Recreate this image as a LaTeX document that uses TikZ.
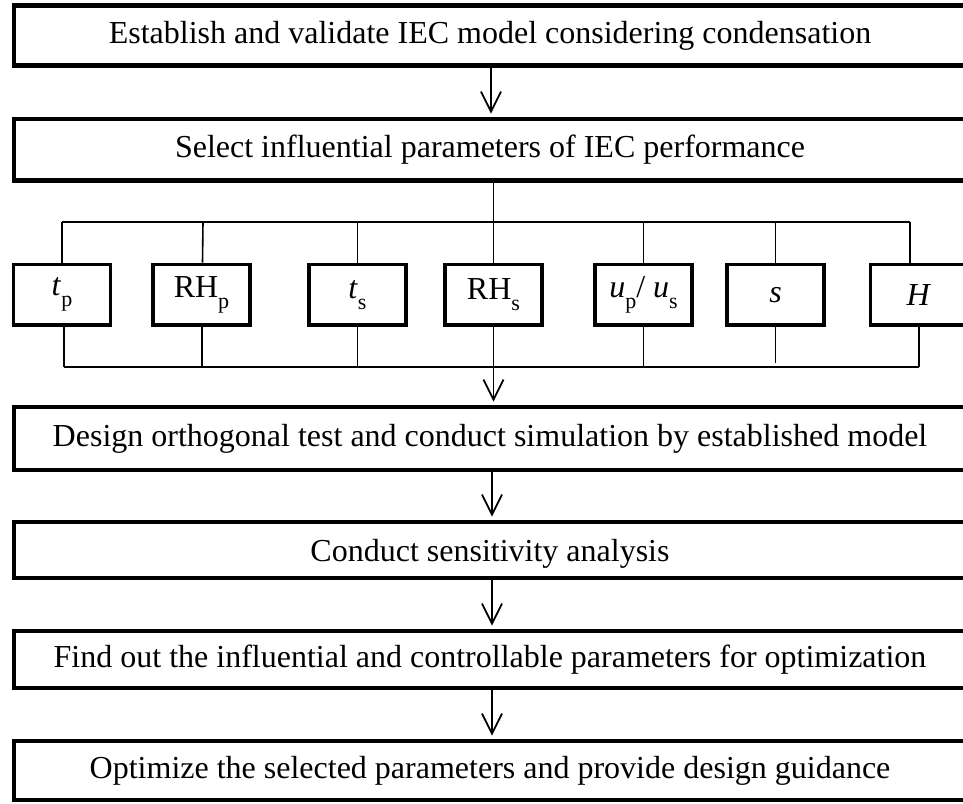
\documentclass[tikz,border=0pt]{standalone}
\usepackage{fontspec}
\setmainfont{Liberation Serif}
\usetikzlibrary{arrows.meta}
\newcommand{\psub}[1]{\raisebox{-0.34em}{\fontsize{22}{22}\selectfont #1}}
\begin{document}
\begin{tikzpicture}[x=1pt,y=-1pt,
 mainbox/.style={draw, line width=4.8pt, minimum width=952pt, inner sep=0pt, font=\fontsize{32}{38}\selectfont},
 parbox/.style={draw, line width=3.8pt, minimum width=97pt, minimum height=60.5pt, inner sep=0pt, font=\fontsize{32}{36}\selectfont},
 link/.style={line width=1.6pt},
 flow/.style={line width=1.8pt, shorten >=3pt, -{Straight Barb[length=20pt,width=20pt,line width=1.8pt]}}
]
\useasboundingbox (0,0) rectangle (963,803);
% main boxes
\node[mainbox, minimum height=60pt]   (b1) at (490,35.5)   {Establish and validate IEC model considering condensation};
\node[mainbox, minimum height=61.5pt] (b2) at (490,149.75) {Select influential parameters of IEC performance};
\node[mainbox, minimum height=63pt]   (b3) at (490,438.5)  {Design orthogonal test and conduct simulation by established model};
\node[mainbox, minimum height=56pt, text depth=0pt] (b4) at (490,550) {Conduct sensitivity analysis};
\node[mainbox, minimum height=57pt]   (b5) at (490,659.5)  {Find out the influential and controllable parameters for optimization};
\node[mainbox, minimum height=59pt]   (b6) at (490,770.5)  {Optimize the selected parameters and provide design guidance};
% parameter boxes
\node[parbox] (p1) at (62,294.75)    {\textit{t}\psub{p}};
\node[parbox] (p2) at (201.5,294.75) {RH\psub{p}};
\node[parbox] (p3) at (357.5,294.75) {\textit{t}\psub{s}};
\node[parbox] (p4) at (493.5,294.75) {RH\psub{s}};
\node[parbox] (p5) at (643.5,294.75) {\textit{u}\psub{p}/ \textit{u}\psub{s}};
\node[parbox] (p6) at (775.5,294.75) {\textit{s}};
\node[parbox] (p7) at (919,294.75)   {\textit{H}};
% bus coordinates
\coordinate (tl) at (62,222);
\coordinate (tr) at (910,222);
\coordinate (m) at (493.5,222);
\coordinate (bl) at (64,367);
\coordinate (br) at (919,367);
% arrows between main boxes
\draw[flow] ([xshift=1pt]b1.south) -- ([xshift=1pt]b2.north);
\draw[flow] ([xshift=2pt]b3.south) -- ([xshift=2pt]b4.north);
\draw[flow] ([xshift=2pt]b4.south) -- ([xshift=2pt]b5.north);
\draw[flow] ([xshift=2pt]b5.south) -- ([xshift=2pt]b6.north);
% top distribution
\draw[link] (m |- b2.south) -- (m) -- (p4.north);
\draw[link] (tl) -- (tr);
\draw[link] (tl) -- (p1.north);
\draw[link] (203,222) -- ([xshift=1pt]p2.north);
\draw[link] (p3.north |- tl) -- (p3.north);
\draw[link] (p5.north |- tl) -- (p5.north);
\draw[link] (p6.north |- tl) -- (p6.north);
\draw[link] (tr) -- (tr |- p7.north);
% bottom collection
\draw[link] (bl) -- (br);
\draw[link] (bl |- p1.south) -- (bl);
\draw[link] (202,0 |- p2.south) -- (202,367);
\draw[link] (p3.south) -- (p3.south |- bl);
\draw[link] (p4.south) -- (p4.south |- bl);
\draw[link] (p5.south) -- (p5.south |- bl);
\draw[link] (p6.south) -- ([yshift=4pt]p6.south |- bl);
\draw[link] (p7.south) -- (br);
\draw[flow] (m |- bl) -- (m |- b3.north);
\end{tikzpicture}
\end{document}
